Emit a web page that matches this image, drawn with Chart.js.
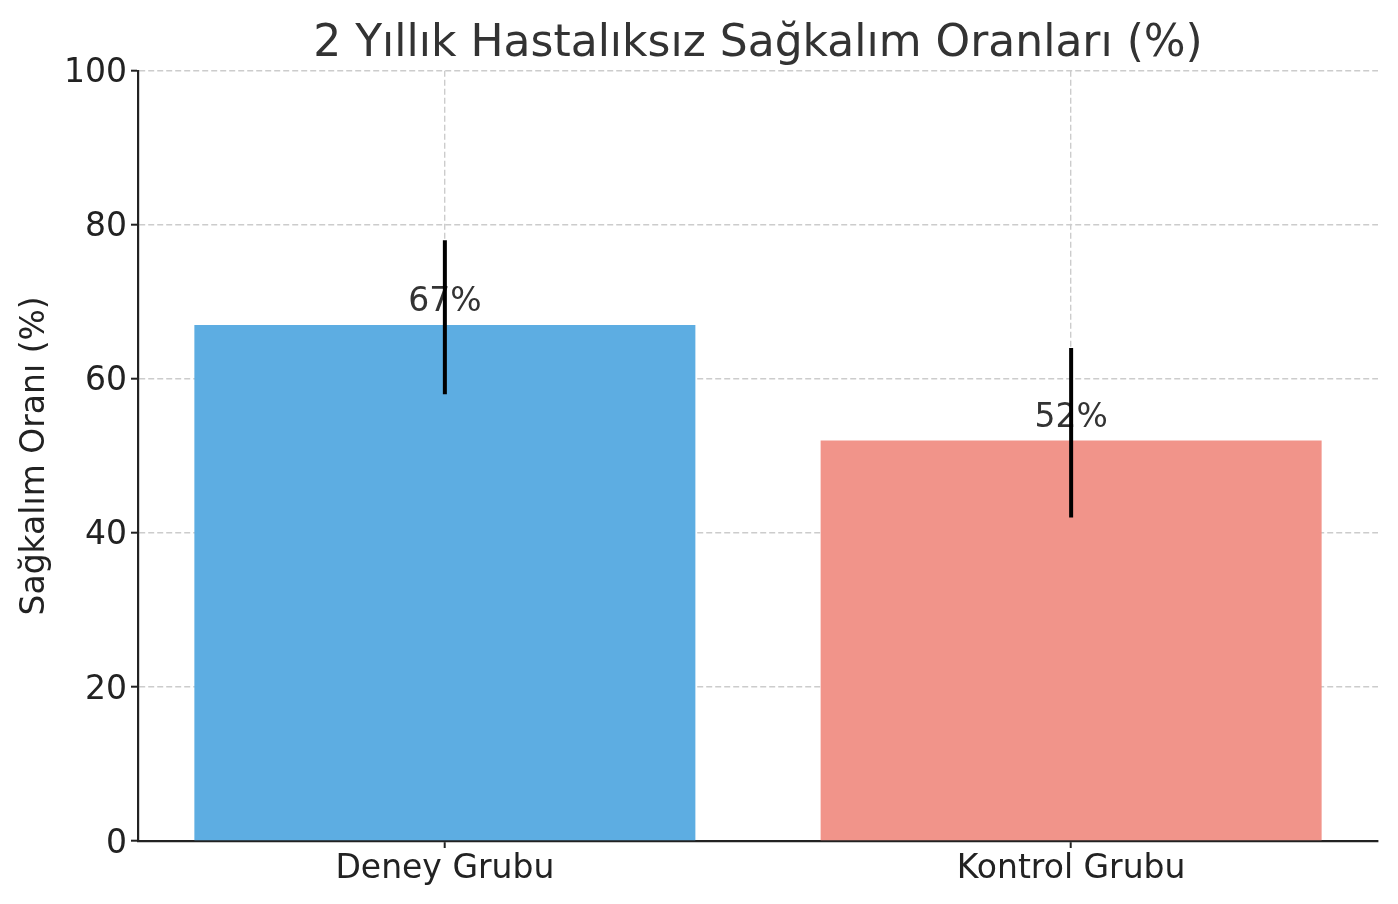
<!DOCTYPE html>
<html><head><meta charset="utf-8">
<script src="https://cdn.jsdelivr.net/npm/chart.js@4.4.1/dist/chart.umd.min.js"></script>
<style>html,body{margin:0;padding:0;background:#fff;overflow:hidden}</style>
</head><body>
<canvas id="c" width="1398" height="904" style="width:1398px;height:904px;display:block"></canvas>
<script>
const categories = ['Deney Grubu', 'Kontrol Grubu'];
const rates = [67, 52];
const errLow = [58, 42];
const errHigh = [78, 64];
const barColors = ['#5DADE2', '#F1948A'];
const yTickValues = [0, 20, 40, 60, 80, 100];
const titleText = '2 Yıllık Hastalıksız Sağkalım Oranları (%)';
const yTitleText = 'Sağkalım Oranı (%)';

const FONT = "'DejaVu Sans', sans-serif";

const overlay = {
  id: 'overlay',
  afterDraw(chart) {
    const ctx = chart.ctx;
    const xs = chart.scales.x, ys = chart.scales.y;
    ctx.save();
    // value labels
    ctx.font = "33px " + FONT;
    ctx.fillStyle = '#333333';
    ctx.textAlign = 'center';
    ctx.textBaseline = 'alphabetic';
    rates.forEach((v, i) => {
      ctx.fillText(v + '%', xs.getPixelForValue(i), ys.getPixelForValue(v + 1) - 6);
    });
    // error bars
    ctx.strokeStyle = '#000000';
    ctx.lineWidth = 4;
    ctx.lineCap = 'butt';
    rates.forEach((v, i) => {
      const x = xs.getPixelForValue(i);
      ctx.beginPath();
      ctx.moveTo(x, ys.getPixelForValue(errLow[i]));
      ctx.lineTo(x, ys.getPixelForValue(errHigh[i]));
      ctx.stroke();
    });
    ctx.restore();
  }
};

new Chart(document.getElementById('c'), {
  type: 'bar',
  data: {
    datasets: [{
      data: categories.map((c, i) => ({ x: i, y: rates[i] })),
      backgroundColor: barColors,
      borderWidth: 0,
      categoryPercentage: 0.8,
      barPercentage: 1.0
    }]
  },
  options: {
    responsive: false,
    animation: false,
    devicePixelRatio: 1,
    layout: { padding: { left: 0, right: 20, top: 0, bottom: 0 } },
    plugins: {
      legend: { display: false },
      tooltip: { enabled: false },
      title: {
        display: true,
        text: titleText,
        fullSize: false,
        color: '#333333',
        font: { family: FONT, size: 44, weight: 'normal' },
        padding: { top: 18, bottom: 0 }
      }
    },
    scales: {
      x: {
        type: 'linear',
        min: -0.49,
        max: 1.49,
        offset: false,
        z: 1,
        afterBuildTicks(s) { s.ticks = categories.map((c, i) => ({ value: i })); },
        afterFit(s) { s.height = 63; },
        ticks: {
          color: '#222222',
          font: { family: FONT, size: 33 },
          padding: 2,
          maxRotation: 0,
          autoSkip: false,
          callback: (v) => categories[v] !== undefined ? categories[v] : ''
        },
        grid: {
          offset: false,
          color: '#cccccc',
          lineWidth: 1.4,
          tickColor: '#222222',
          tickWidth: 2,
          tickLength: 7,
          drawOnChartArea: true
        },
        border: { display: true, color: '#222222', width: 2.2, dash: [6, 3] }
      },
      y: {
        min: 0,
        max: 100,
        z: 1,
        afterBuildTicks(s) { s.ticks = yTickValues.map(v => ({ value: v })); },
        afterFit(s) { s.width = 138; },
        ticks: {
          color: '#222222',
          font: { family: FONT, size: 33 },
          padding: 4,
          labelOffset: 3
        },
        grid: {
          color: '#cccccc',
          lineWidth: 1.4,
          tickColor: '#222222',
          tickWidth: 2,
          tickLength: 7
        },
        border: { display: true, color: '#222222', width: 2.2, dash: [6, 3] },
        title: {
          display: true,
          text: yTitleText,
          color: '#222222',
          font: { family: FONT, size: 33 },
          padding: { top: 16, bottom: 0 }
        }
      }
    }
  },
  plugins: [overlay]
});
</script>
</body></html>
